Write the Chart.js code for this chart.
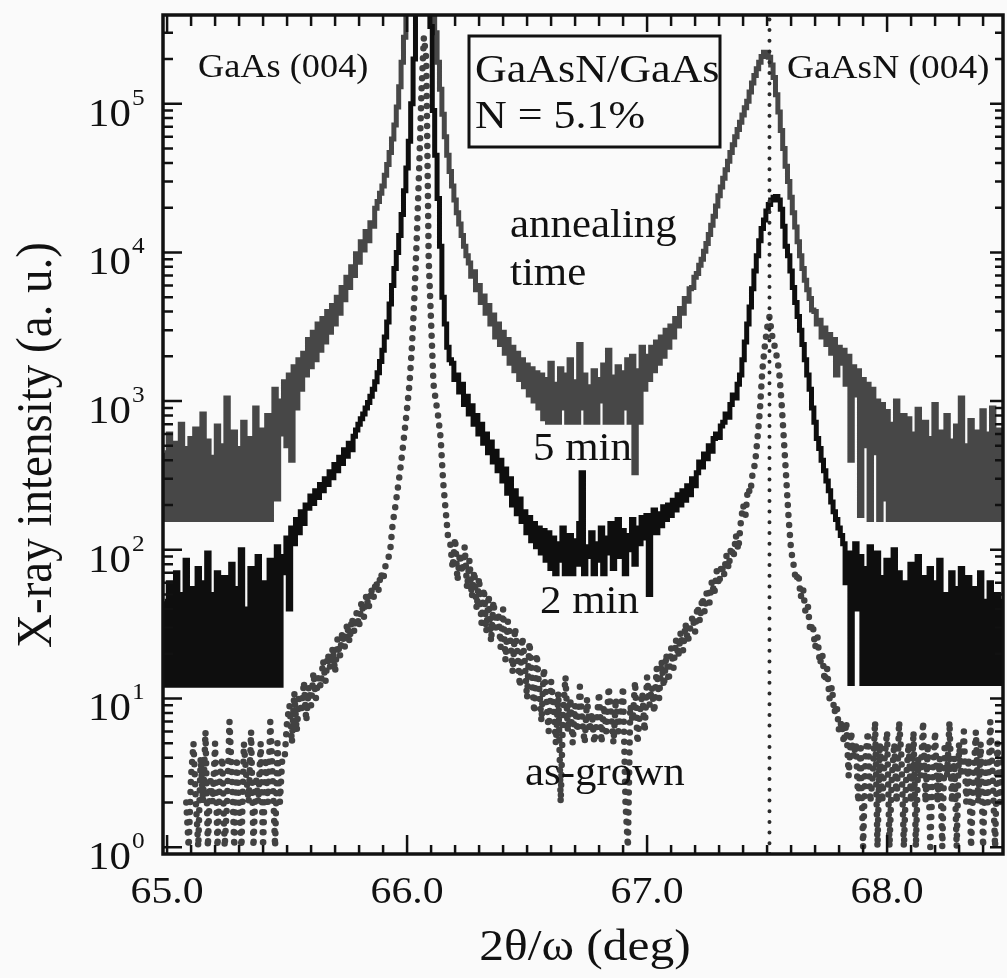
<!DOCTYPE html>
<html>
<head>
<meta charset="utf-8">
<script src="https://cdn.jsdelivr.net/npm/chart.js@4.4.1/dist/chart.umd.min.js"></script>
<style>
  html, body { margin: 0; padding: 0; background: #fafafa; }
  canvas { display: block; }
</style>
</head>
<body>
<canvas id="xrd" width="1007" height="978"></canvas>
<script>
// scan grid: 2theta/omega starts at 64.99 deg, one point every 0.01 deg
// every row below holds 10 points, the comment is the angle of its first point
const scanStart = 64.99;
const scanStep = 0.01;

const anneal5min = [
  450, 160, 600, 160, 380, 520, 160, 700, 160, 480,            // 64.99
  160, 560, 160, 650, 300, 160, 820, 160, 540, 160,            // 65.09
  420, 160, 680, 160, 500, 160, 1050, 250, 160, 620,           // 65.19
  160, 480, 160, 720, 160, 560, 380, 160, 900, 160,            // 65.29
  640, 160, 560, 800, 160, 700, 1200, 220, 1000, 600,          // 65.39
  1350, 500, 1500, 400, 1700, 900, 1900, 1200, 2100, 1500,     // 65.49
  2600, 1700, 2900, 1900, 3300, 2200, 3600, 2500, 4000, 2900,  // 65.59
  4400, 3300, 5000, 3900, 5800, 4800, 6800, 5800, 8000, 7000,  // 65.69
  9800, 8600, 11800, 10400, 13800, 12000, 15800, 15000, 19800, 22000,           // 65.79
  25000, 28000, 33000, 39000, 47000, 58000, 72000, 95000, 130000, 190000,       // 65.89
  280000, 420000, 700000, 1200000, 2000000, 3000000, 3500000, 3300000, 2500000, 1600000, // 65.99
  1000000, 650000, 440000, 300000, 190000, 125000, 85000, 60000, 45000, 35000,  // 66.09
  28000, 22500, 18500, 15500, 13000, 11000, 9500, 8500, 6900, 7400,  // 66.19
  5600, 6000, 4600, 5100, 3900, 4400, 3300, 3800, 2700, 3300,  // 66.29
  2400, 2900, 2100, 2600, 1800, 2300, 1600, 2100, 1400, 1900,  // 66.39
  1250, 1750, 1100, 1650, 1000, 1550, 900, 1500, 760, 1400,    // 66.49
  720, 1800, 720, 1300, 720, 1650, 900, 1500, 720, 1900,       // 66.59
  720, 1350, 720, 2400, 900, 1500, 720, 1250, 720, 1600,       // 66.69
  720, 1400, 1000, 1750, 720, 2200, 720, 1450, 720, 1700,      // 66.79
  720, 1550, 900, 1900, 720, 2000, 330, 1600, 720, 2300,       // 66.89
  1200, 2000, 1400, 2300, 1600, 2500, 1800, 2700, 2000, 3000,  // 66.99
  2300, 3200, 2700, 3600, 3200, 4200, 3900, 4900, 4700, 5700,  // 67.09
  5800, 6800, 7200, 8200, 9000, 10200, 11500, 13200, 15200, 17500,              // 67.19
  20500, 24000, 27500, 31500, 36000, 41000, 47000, 53000, 60000, 67000,         // 67.29
  75000, 84000, 94000, 104000, 120000, 138000, 155000, 172000, 190000, 208000,  // 67.39
  222000, 218000, 205000, 182000, 150000, 115000, 88000, 66000, 50000, 38000,   // 67.49
  30000, 23500, 18500, 14800, 11800, 9500, 7800, 6500, 5600, 4900,  // 67.59
  4100, 4000, 3300, 3500, 2700, 3100, 2400, 2800, 2100, 2600,  // 67.69
  1500, 2300, 1800, 2200, 1300, 2000, 400, 1700, 1100, 1600,   // 67.79
  170, 1400, 500, 1300, 160, 1200, 450, 1000, 160, 950,        // 67.89
  220, 850, 160, 700, 160, 1000, 350, 160, 800, 160,           // 67.99
  760, 160, 600, 160, 880, 280, 160, 720, 160, 560,            // 68.09
  160, 950, 160, 620, 380, 160, 800, 160, 540, 160,            // 68.19
  680, 160, 1050, 160, 500, 160, 740, 300, 160, 620,           // 68.29
  160, 860, 160, 600, 160, 900, 280, 160, 640, 160             // 68.39
];

const anneal2min = [
  45, 12.3, 60, 12.3, 35, 70, 12.3, 50, 12.3, 85,              // 64.99
  12.3, 55, 12.3, 40, 75, 12.3, 60, 12.3, 95, 12.3,            // 65.09
  50, 12.3, 70, 30, 12.3, 65, 12.3, 45, 80, 12.3,              // 65.19
  55, 12.3, 100, 12.3, 40, 12.3, 75, 18, 12.3, 90,             // 65.29
  12.3, 60, 35, 12.3, 85, 12.3, 55, 105, 12.3, 70,             // 65.39
  90, 120, 40, 140, 110, 160, 130, 180, 150, 200,              // 65.49
  190, 230, 205, 250, 225, 275, 250, 300, 275, 335,            // 65.59
  305, 375, 340, 420, 380, 470, 425, 520, 470, 580,            // 65.69
  640, 700, 760, 820, 900, 980, 1080, 1200, 1350, 1550,        // 65.79
  1850, 2200, 2700, 3400, 4500, 6000, 7800, 10000, 13000, 18000,                // 65.89
  26000, 37000, 56000, 100000, 200000, 420000, 900000, 1500000, 1800000, 1300000, // 65.99
  650000, 330000, 90000, 45000, 23000, 11000, 5000, 3300, 2300, 1900,           // 66.09
  1800, 1400, 1500, 1150, 1300, 950, 1080, 820, 930, 700,      // 66.19
  800, 600, 700, 520, 600, 450, 530, 390, 460, 340,            // 66.29
  400, 290, 350, 240, 300, 200, 250, 175, 220, 155,            // 66.39
  180, 130, 165, 115, 150, 105, 140, 95, 135, 85,              // 66.49
  130, 75, 120, 69, 110, 85, 140, 69, 100, 125,                // 66.59
  69, 115, 80, 150, 330, 69, 105, 90, 130, 69,                 // 66.69
  110, 85, 140, 69, 120, 95, 150, 75, 115, 160,                // 66.79
  90, 135, 69, 125, 100, 160, 80, 140, 110, 165,               // 66.89
  120, 170, 50, 150, 185, 130, 175, 145, 195, 160,             // 66.99
  200, 170, 215, 185, 235, 200, 250, 215, 270, 235,            // 67.09
  300, 270, 330, 390, 360, 440, 410, 500, 460, 560,            // 67.19
  600, 570, 680, 720, 820, 780, 950, 1100, 1050, 1300,         // 67.29
  1500, 1900, 2500, 3300, 4300, 5700, 7500, 9500, 12000, 14500,  // 67.39
  16500, 19000, 21000, 22500, 23500, 23800, 22500, 19500, 15000, 11000, // 67.49
  9500, 7500, 5800, 4600, 3700, 3000, 2400, 1900, 1500, 1200,  // 67.59
  900, 720, 560, 480, 400, 340, 290, 250, 210, 180,            // 67.69
  160, 140, 125, 110, 60, 95, 12.6, 85, 110, 40,               // 67.79
  90, 12.6, 75, 12.6, 105, 40, 12.6, 95, 12.6, 65,             // 67.89
  12.6, 85, 12.6, 55, 100, 12.6, 70, 25, 12.6, 60,             // 67.99
  12.6, 80, 12.6, 50, 90, 12.6, 65, 12.6, 45, 75,              // 68.09
  12.6, 60, 12.6, 85, 30, 12.6, 50, 12.6, 70, 12.6,            // 68.19
  55, 12.6, 75, 12.6, 45, 65, 12.6, 20, 55, 12.6,              // 68.29
  70, 12.6, 45, 12.6, 60, 30, 12.6, 50, 12.6, 45               // 68.39
];

const asGrown = [
  null, null, null, null, null, null, null, null, null, 2,     // 64.99
  1, 3, 5, 2, 1, 4, 2, 6, 1, 3,                                // 65.09
  2, 5, 1, 3, 4, 1, 2, 7, 3, 1,                                // 65.19
  4, 2, 1, 5, 3, 2, 6, 1, 3, 2,                                // 65.29
  5, 1, 4, 2, 7, 3, 1, 5, 2, 4,                                // 65.39
  4, 7, 9, 5, 11, 6, 10, 8, 13, 7,                             // 65.49
  12, 9, 15, 10, 14, 12, 18, 13, 20, 16,                       // 65.59
  22, 15, 25, 19, 28, 22, 32, 24, 35, 28,                      // 65.69
  38, 30, 45, 35, 50, 40, 55, 47, 62, 52,                      // 65.79
  70, 62, 78, 85, 100, 150, 190, 250, 330, 450,                // 65.89
  630, 900, 1300, 2300, 4800, 12000, 35000, 120000, 280000, 200000, // 65.99
  9000, 3400, 1300, 1000, 780, 560, 290, 190, 125, 110,        // 66.09
  75, 120, 62, 95, 70, 105, 55, 85, 48, 72,                    // 66.19
  40, 65, 32, 55, 28, 50, 24, 45, 30, 38,                      // 66.29
  22, 40, 18, 33, 25, 15, 30, 20, 12, 26,                      // 66.39
  18, 10, 24, 14, 8, 20, 12, 7, 16, 10,                        // 66.49
  6, 13, 9, 5, 11, 2, 8, 14, 6, 10,                            // 66.59
  5, 9, 6, 12, 7, 5, 10, 6, 8, 5,                              // 66.69
  7, 11, 5, 9, 6, 12, 8, 5, 10, 6,                             // 66.79
  8, 12, 2, 1, 9, 7, 13, 5, 8, 11,                             // 66.89
  6, 14, 9, 12, 8, 16, 10, 18, 12, 20,                         // 66.99
  13, 22, 16, 25, 19, 28, 21, 32, 24, 30,                      // 67.09
  36, 28, 42, 33, 48, 38, 55, 44, 62, 50,                      // 67.19
  72, 58, 80, 66, 92, 75, 105, 88, 125, 100,                   // 67.29
  150, 200, 170, 260, 240, 330, 380, 560, 860, 1600,           // 67.39
  2300, 3100, 3700, 2800, 2400, 2000, 1600, 1000, 550, 300,    // 67.49
  160, 100, 80, 62, 70, 48, 55, 38, 42, 28,                    // 67.59
  32, 22, 26, 17, 20, 13, 16, 10, 12, 8,                       // 67.69
  9, 6, 7, 5, 7, 3, 6, 4, 5, 2,                                // 67.79
  5, 1, 4, 6, 2, 3, 7, 1, 5, 2,                                // 67.89
  4, 6, 1, 3, 5, 2, 7, 4, 1, 3,                                // 67.99
  5, 2, 6, 1, 4, 3, 7, 2, 5, 1,                                // 68.09
  3, 6, 2, 4, 1, 5, 3, 7, 2, 4,                                // 68.19
  1, 5, 3, 6, 2, 4, 1, 3, 6, 2,                                // 68.29
  5, 1, 4, 2, 7, 3, 1, 5, 2, 4                                 // 68.39
];

const xMajorTicks = [65.0, 66.0, 67.0, 68.0];
const xTickLabels = ["65.0", "66.0", "67.0", "68.0"];
const yDecades = [0, 1, 2, 3, 4, 5];
const gaAsNPeak = 67.51;   // dotted guide at the as-grown GaAsN (004) peak

const twoTheta = anneal5min.map((_, i) => +(scanStart + i * scanStep).toFixed(2));

function points(vals) {
    return vals
        .map((v, i) => ({ x: twoTheta[i], y: v }))
        .filter(p => p.y !== null);
}

const SERIF = '"Liberation Serif", "Times New Roman", serif';
const STRETCH = 1.1;   // the original figure is a bit wider than tall

function label(ctx, str, x, y, size, align) {
    ctx.save();
    ctx.translate(x, y);
    ctx.scale(STRETCH, 1);
    ctx.font = size + "px " + SERIF;
    ctx.textAlign = align || "left";
    ctx.textBaseline = "alphabetic";
    ctx.fillText(str, 0, 0);
    ctx.restore();
}

const frame = {
    id: "frame",
    beforeDraw(chart) {
        const ctx = chart.ctx;
        ctx.save();
        ctx.fillStyle = "#fafafa";
        ctx.fillRect(0, 0, chart.width, chart.height);
        ctx.restore();
    },
    afterDraw(chart) {
        const { ctx, chartArea: a, scales: { x, y } } = chart;
        ctx.save();
        ctx.strokeStyle = "#111";
        ctx.fillStyle = "#111";

        // inward ticks on all four sides
        ctx.lineWidth = 2.5;
        ctx.beginPath();
        for (let k = 650; k <= 684; k++) {
            const px = x.getPixelForValue(k / 10);
            if (px < a.left || px > a.right) continue;
            const major = xMajorTicks.includes(k / 10);
            ctx.moveTo(px, a.bottom);
            ctx.lineTo(px, a.bottom - (major ? 19 : 9));
            ctx.moveTo(px, a.top);
            ctx.lineTo(px, a.top + (major ? 17 : 11));
        }
        yDecades.forEach(d => {
            for (let m = 1; m <= 9; m++) {
                const v = m * Math.pow(10, d);
                if (v < y.min || v > y.max) continue;
                const py = y.getPixelForValue(v);
                const major = m === 1;
                ctx.moveTo(a.left, py);
                ctx.lineTo(a.left + (major ? 19 : 10), py);
                ctx.moveTo(a.right, py);
                ctx.lineTo(a.right - (major ? 13 : 8), py);
            }
        });
        ctx.stroke();

        ctx.lineWidth = 3.5;
        ctx.strokeRect(a.left, a.top, a.right - a.left, a.bottom - a.top);

        // tick labels
        xMajorTicks.forEach((v, i) => {
            label(ctx, xTickLabels[i], x.getPixelForValue(v), 903, 38, "center");
        });
        yDecades.forEach(d => {
            const py = y.getPixelForValue(Math.pow(10, d));
            label(ctx, "10", 131, py + 22, 39, "right");
            label(ctx, String(d), 132, py + 1, 23, "left");
        });

        // axis titles
        label(ctx, "2\u03b8/\u03c9 (deg)", 585, 960, 45, "center");
        ctx.save();
        ctx.translate(51, 445);
        ctx.rotate(-Math.PI / 2);
        ctx.scale(1, STRETCH);
        ctx.font = "47px " + SERIF;
        ctx.textAlign = "center";
        ctx.fillText("X-ray intensity (a. u.)", 0, 0);
        ctx.restore();

        // sample box
        ctx.fillStyle = "#fafafa";
        ctx.fillRect(469, 36, 251, 111);
        ctx.lineWidth = 3;
        ctx.strokeRect(469, 36, 251, 111);
        ctx.fillStyle = "#111";
        label(ctx, "GaAsN/GaAs", 475, 82, 40);
        label(ctx, "N = 5.1%", 475, 128, 40);

        // peak and curve annotations
        label(ctx, "GaAs (004)", 198, 77, 33);
        label(ctx, "GaAsN (004)", 787, 78, 34);
        label(ctx, "annealing", 510, 237, 39);
        label(ctx, "time", 510, 285, 39);
        label(ctx, "5 min", 533, 460, 39);
        label(ctx, "2 min", 540, 613, 39);
        label(ctx, "as-grown", 525, 785, 39);
        ctx.restore();
    }
};

new Chart(document.getElementById("xrd"), {
    type: "line",
    data: {
        datasets: [
            {
                label: "5 min",
                data: points(anneal5min),
                borderColor: "#474747",
                borderWidth: 5,
                stepped: "middle",
                pointRadius: 0,
                order: 3
            },
            {
                label: "2 min",
                data: points(anneal2min),
                borderColor: "#0e0e0e",
                borderWidth: 5,
                stepped: "middle",
                pointRadius: 0,
                order: 2
            },
            {
                label: "as-grown",
                data: points(asGrown),
                borderColor: "#424242",
                borderWidth: 6.5,
                borderDash: [0, 10],
                borderCapStyle: "round",
                pointRadius: 0,
                order: 1
            },
            {
                label: "GaAsN peak",
                data: [{ x: gaAsNPeak, y: 0.9 }, { x: gaAsNPeak, y: 3.95e5 }],
                borderColor: "#2a2a2a",
                borderWidth: 4,
                borderDash: [0, 10.7],
                borderCapStyle: "round",
                pointRadius: 0,
                order: 0
            }
        ]
    },
    options: {
        responsive: false,
        animation: false,
        devicePixelRatio: 1,
        events: [],
        layout: {
            padding: { top: 15, right: 4, left: 0, bottom: 0 }
        },
        plugins: {
            legend: { display: false },
            tooltip: { enabled: false }
        },
        scales: {
            x: {
                type: "linear",
                min: 64.983,
                max: 68.483,
                ticks: { display: false },
                grid: { display: false },
                border: { display: false },
                afterFit(s) { s.height = 124; }
            },
            y: {
                type: "logarithmic",
                min: 0.9,
                max: 3.95e5,
                ticks: { display: false },
                grid: { display: false },
                border: { display: false },
                afterFit(s) { s.width = 163; }
            }
        }
    },
    plugins: [frame]
});
</script>
</body>
</html>
